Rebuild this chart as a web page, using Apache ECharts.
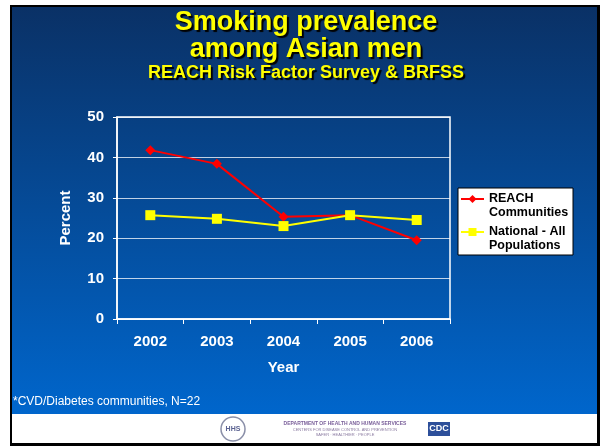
<!DOCTYPE html>
<html>
<head>
    <meta charset="UTF-8">
    <title>Smoking prevalence among Asian men</title>
    <script type="text/javascript" src="https://cdn.jsdelivr.net/npm/echarts@6/dist/echarts.min.js"></script>
    <style type="text/css">
        html, body { margin: 0; padding: 0; background: #fff; }
        #main { width: 602px; height: 447px; }
    </style>
</head>
<body>
<div id="main"></div>
<script>
// data
var years = ['2002', '2003', '2004', '2005', '2006'];
var reachVals = [41.8, 38.4, 25.3, 25.7, 19.5];
var nationalVals = [25.7, 24.8, 23.0, 25.7, 24.5];
var seriesNames = ['REACH Communities', 'National - All Populations'];
var legendLines = {
    'REACH Communities': 'REACH\nCommunities',
    'National - All Populations': 'National - All\nPopulations'
};
var yTicks = { min: 0, max: 50, interval: 10 };

var font = 'Liberation Sans, Arial, sans-serif';
var shadow = { textShadowColor: '#000', textShadowOffsetX: 2, textShadowOffsetY: 2, textShadowBlur: 1 };

function titleStyle(size) {
    return Object.assign({ color: '#ffff00', fontSize: size, fontWeight: 'bold', fontFamily: font }, shadow);
}

var myChart = echarts.init(document.getElementById('main'));
myChart.setOption({
    animation: false,
    title: [
        { text: 'Smoking prevalence', left: 306, top: 9, textAlign: 'center', padding: 0, textStyle: titleStyle(27) },
        { text: 'among Asian men', left: 306, top: 36, textAlign: 'center', padding: 0, textStyle: titleStyle(27) },
        { text: 'REACH Risk Factor Survey & BRFSS', left: 306, top: 64, textAlign: 'center', padding: 0, textStyle: titleStyle(18) }
    ],
    graphic: [
        // slide frame + gradient background
        { type: 'rect', z: -20, silent: true, shape: { x: 10, y: 5, width: 590, height: 441 }, style: { fill: '#000' } },
        { type: 'rect', z: -19, silent: true, shape: { x: 12, y: 7, width: 585, height: 407 },
          style: { fill: new echarts.graphic.LinearGradient(0, 0, 0, 1, [
              { offset: 0, color: '#0a3166' },
              { offset: 1, color: '#0066cc' }
          ]) } },
        { type: 'rect', z: -19, silent: true, shape: { x: 12, y: 414, width: 585, height: 29 }, style: { fill: '#fff' } },
        // legend box
        { type: 'rect', z: -5, silent: true, shape: { x: 458, y: 188, width: 115, height: 67 },
          style: { fill: '#fff', stroke: '#000', lineWidth: 1 } },
        // footnote
        { type: 'text', silent: true, x: 13, y: 402,
          style: { text: '*CVD/Diabetes communities, N=22', fill: '#fff', font: '12px ' + font, verticalAlign: 'middle' } },
        // footer logos
        { type: 'circle', silent: true, shape: { cx: 233, cy: 429, r: 12 }, style: { fill: 'none', stroke: '#8a8fa8', lineWidth: 1.5 } },
        { type: 'text', silent: true, x: 233, y: 429,
          style: { text: 'HHS', fill: '#5a6190', font: 'bold 7px ' + font, align: 'center', verticalAlign: 'middle' } },
        { type: 'text', silent: true, x: 345, y: 424,
          style: { text: 'DEPARTMENT OF HEALTH AND HUMAN SERVICES', fill: '#7a5f9a', font: 'bold 5px ' + font, align: 'center', verticalAlign: 'middle' } },
        { type: 'text', silent: true, x: 345, y: 430,
          style: { text: 'CENTERS FOR DISEASE CONTROL AND PREVENTION', fill: '#8a7aa0', font: '4px ' + font, align: 'center', verticalAlign: 'middle' } },
        { type: 'text', silent: true, x: 345, y: 435,
          style: { text: 'SAFER \u00b7 HEALTHIER \u00b7 PEOPLE', fill: '#8a7aa0', font: '4px ' + font, align: 'center', verticalAlign: 'middle' } },
        { type: 'rect', silent: true, shape: { x: 428, y: 422, width: 22, height: 14 }, style: { fill: '#2d4f9a' } },
        { type: 'text', silent: true, x: 439, y: 429,
          style: { text: 'CDC', fill: '#fff', font: 'bold 9px ' + font, align: 'center', verticalAlign: 'middle' } }
    ],
    grid: {
        left: 117, right: 152, top: 117, bottom: 128,
        show: true, borderColor: '#fff', borderWidth: 1.5, backgroundColor: 'transparent'
    },
    // one legend per entry; a blank first line puts the icon level with the first text line
    legend: [
        { data: [seriesNames[0]], left: 460, top: 178 },
        { data: [seriesNames[1]], left: 460, top: 211 }
    ].map(function (l) {
        return Object.assign(l, {
            orient: 'vertical', padding: 0, itemWidth: 23, itemHeight: 10,
            formatter: function (n) { return ' \n' + legendLines[n]; },
            textStyle: { color: '#000', fontSize: 12.5, fontWeight: 'bold', fontFamily: font, lineHeight: 14 }
        });
    }),
    xAxis: {
        type: 'category', data: years, boundaryGap: true,
        name: 'Year', nameLocation: 'middle', nameGap: 41,
        nameTextStyle: { color: '#fff', fontSize: 15, fontWeight: 'bold', fontFamily: font },
        axisLine: { lineStyle: { color: '#fff', width: 1.5 } },
        axisTick: { show: true, inside: false, length: 5, lineStyle: { color: '#fff' } },
        axisLabel: { color: '#fff', fontSize: 15, fontWeight: 'bold', fontFamily: font, margin: 15 },
        splitLine: { show: false }
    },
    yAxis: {
        type: 'value', min: yTicks.min, max: yTicks.max, interval: yTicks.interval,
        name: 'Percent', nameLocation: 'middle', nameGap: 44,
        nameTextStyle: { color: '#fff', fontSize: 15, fontWeight: 'bold', fontFamily: font },
        axisLine: { show: true, lineStyle: { color: '#fff', width: 1.5 } },
        axisTick: { show: true, length: 4, lineStyle: { color: '#fff' } },
        axisLabel: { color: '#fff', fontSize: 15, fontWeight: 'bold', fontFamily: font, margin: 13 },
        splitLine: { show: true, lineStyle: { color: 'rgba(255,255,255,0.75)', width: 1 } }
    },
    series: [
        {
            name: seriesNames[0], type: 'line', data: reachVals,
            symbol: 'diamond', symbolSize: 10,
            itemStyle: { color: '#ff0000' },
            lineStyle: { color: '#ff0000', width: 2 }
        },
        {
            name: seriesNames[1], type: 'line', data: nationalVals,
            symbol: 'rect', symbolSize: 10,
            itemStyle: { color: '#ffff00' },
            lineStyle: { color: '#ffff00', width: 2 }
        }
    ]
});
</script>
</body>
</html>
